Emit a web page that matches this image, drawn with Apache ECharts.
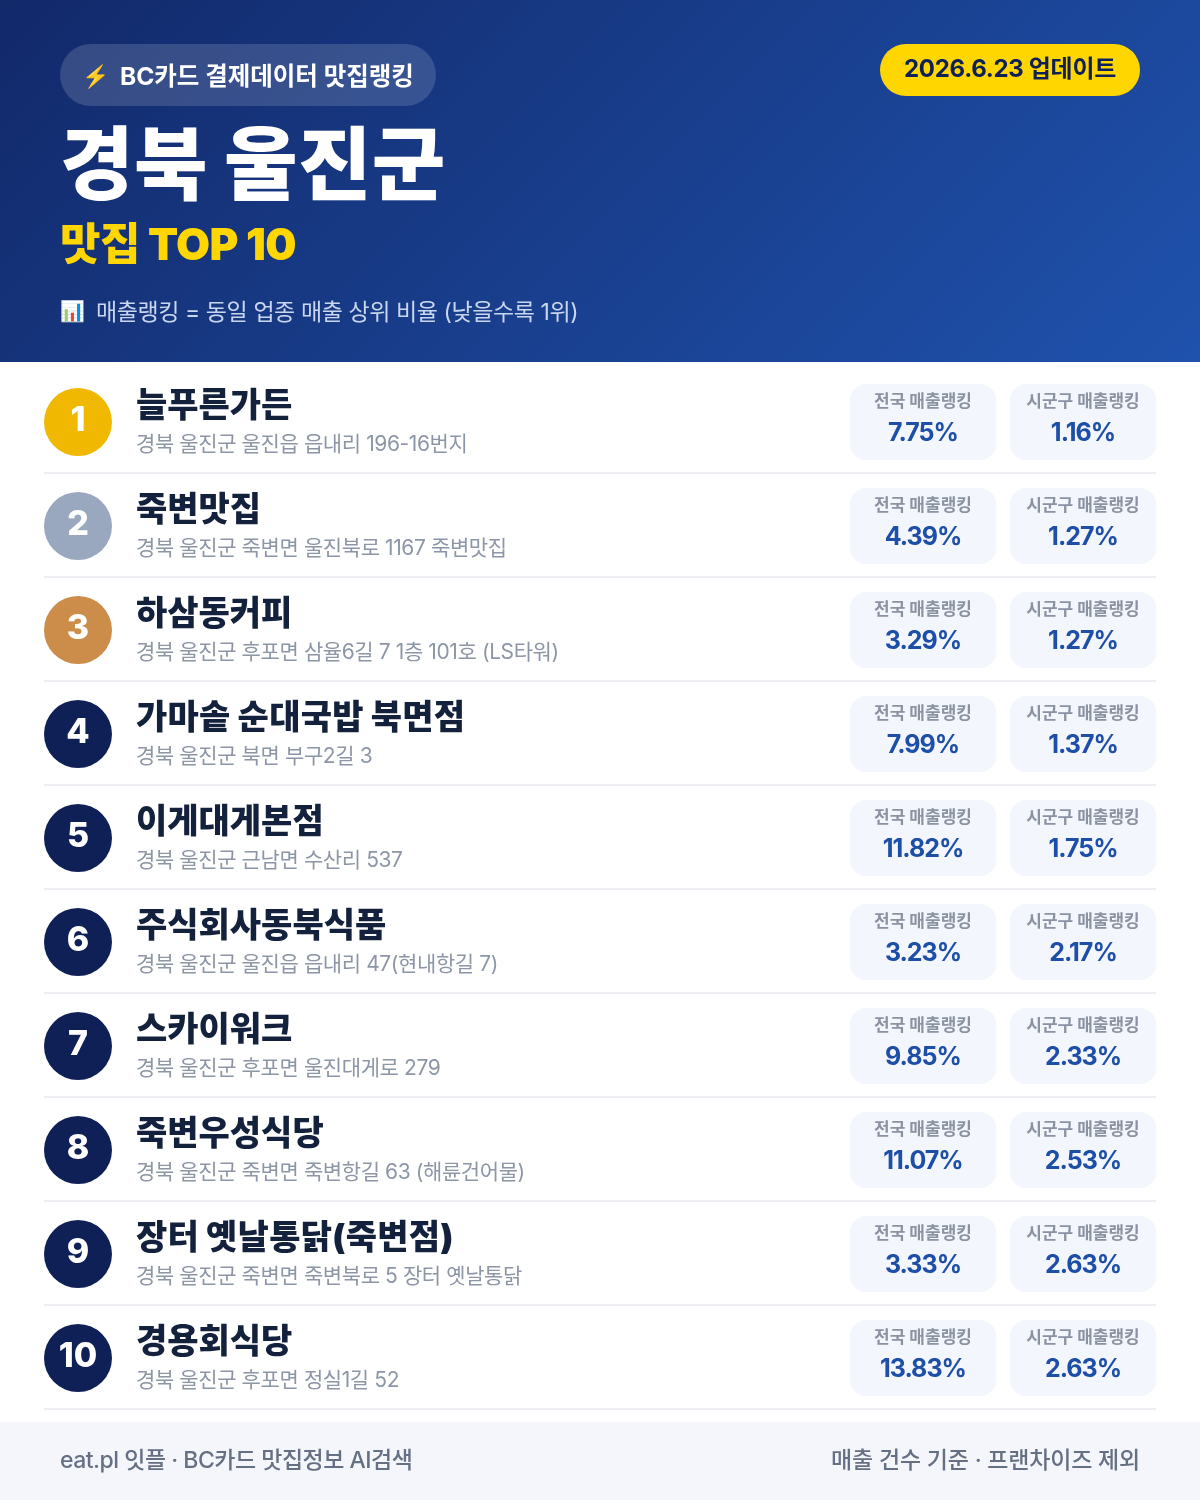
<!DOCTYPE html>
<html lang="ko">
<head>
<meta charset="utf-8">
<style>html,body{margin:0;padding:0;background:#fff}#c{width:1200px;height:1500px}</style>
<script src="https://cdn.jsdelivr.net/npm/echarts@6/dist/echarts.min.js"></script>
</head>
<body>
<div id="c"></div>
<script>
const ranks = ['1','2','3','4','5','6','7','8','9','10'];
const names = ['늘푸른가든','죽변맛집','하삼동커피','가마솥 순대국밥 북면점','이게대게본점','주식회사동북식품','스카이워크','죽변우성식당','장터 옛날통닭(죽변점)','경용회식당'];
const addresses = ['경북 울진군 울진읍 읍내리 196-16번지','경북 울진군 죽변면 울진북로 1167 죽변맛집','경북 울진군 후포면 삼율6길 7 1층 101호 (LS타워)','경북 울진군 북면 부구2길 3','경북 울진군 근남면 수산리 537','경북 울진군 울진읍 읍내리 47(현내항길 7)','경북 울진군 후포면 울진대게로 279','경북 울진군 죽변면 죽변항길 63 (해륜건어물)','경북 울진군 죽변면 죽변북로 5 장터 옛날통닭','경북 울진군 후포면 정실1길 52'];
const nationalRank = [7.75,4.39,3.29,7.99,11.82,3.23,9.85,11.07,3.33,13.83];
const localRank = [1.16,1.27,1.27,1.37,1.75,2.17,2.33,2.53,2.63,2.63];
const FONT = 'Inter,"Noto Sans CJK KR",sans-serif';
const NAVY='#0f2057', BLUE='#1e4fa8';
const badgeColors = ['#f0b800','#9aa8bf','#cc8c4a'];

// tight tracking of the original type, applied at draw time per text string
const tracking = new Map();
const proto = CanvasRenderingContext2D.prototype, rawFill = proto.fillText;
proto.fillText = function(t,x,y){
  this.letterSpacing=(tracking.get(String(t))||0)+'px';
  rawFill.call(this,t,x,y);
};

const chart = echarts.init(document.getElementById('c'),null,{renderer:'canvas',width:1200,height:1500});

function txt(x,y,text,size,weight,fill,align,track){
  if(track) tracking.set(String(text),track);
  return {type:'text',x:x,y:y,silent:true,style:{text:text,font:weight+' '+size+'px '+FONT,fill:fill,align:align||'left',verticalAlign:'middle'}};
}
function card(x,y,label,value){
  return {type:'group',children:[
    {type:'rect',shape:{x:x,y:y-38,width:146,height:76,r:16},style:{fill:'#f3f6fd'}},
    txt(x+73,y-20,label,17,700,'#8b93a3','center'),
    txt(x+73,y+11,value.toFixed(2)+'%',25,700,BLUE,'center',-1)
  ]};
}

chart.setOption({
  animation:false,
  backgroundColor:'#fff',
  grid:{left:44,width:1112,top:369,height:1040},
  xAxis:{type:'value',min:0,max:1112,show:false},
  yAxis:{type:'category',data:ranks,inverse:true,
    axisLine:{show:false},axisTick:{show:false},axisLabel:{show:false},
    splitLine:{show:true,interval:0,showMinLine:false,lineStyle:{color:'#eceef2',width:2}}},
  series:[
    {type:'scatter',symbol:'circle',symbolSize:68,symbolOffset:[34,1],silent:true,
     data:ranks.map((r,i)=>({value:[0,i],itemStyle:{color:badgeColors[i]||NAVY,opacity:1}})),
     label:{show:true,position:'inside',offset:[0,-1],formatter:p=>ranks[p.dataIndex],color:'#fff',fontFamily:FONT,fontWeight:800,fontSize:34}},
    {type:'custom',silent:true,coordinateSystem:'cartesian2d',
     data:names.map((n,i)=>[0,i]),
     renderItem:(params,api)=>{
       const i=params.dataIndex, p=api.coord([0,i]);
       return {type:'group',children:[
         txt(p[0]+92,p[1]-14,names[i],34,900,'#14213d','left',names[i].includes(' ')?0.25:0),
         txt(p[0]+92,p[1]+24,addresses[i],21,400,'#8d96a6','left',-0.4)
       ]};
     }},
    {type:'custom',silent:true,coordinateSystem:'cartesian2d',
     data:nationalRank.map((v,i)=>[0,i,v,localRank[i]]),
     renderItem:(params,api)=>{
       const i=params.dataIndex, p=api.coord([0,i]), y=p[1]+1;
       return {type:'group',children:[
         card(850,y,'전국 매출랭킹',api.value(2)),
         card(1010,y,'시군구 매출랭킹',api.value(3))
       ]};
     }}
  ],
  graphic:{elements:[
    {type:'rect',shape:{x:0,y:0,width:1200,height:362},silent:true,
     style:{fill:new echarts.graphic.LinearGradient(209.5,-209.5,990.5,571.5,[{offset:0,color:'#12296a'},{offset:1,color:'#1f52ad'}],true)}},
    {type:'rect',shape:{x:60,y:44,width:376,height:62,r:31},silent:true,style:{fill:'rgba(255,255,255,0.15)'}},
    txt(82,77,'⚡',22,400,'#ffc83d'),
    txt(120,78,'BC카드 결제데이터 맛집랭킹',24.5,700,'#fff'),
    txt(60,169,'경북 울진군',80,900,'#fff','left',0.3),
    txt(60,247,'맛집 TOP 10',44,900,'#ffd600','left',-0.6),
    txt(60,312,'📊',20,400,'#fff'),
    txt(96,313,'매출랭킹 = 동일 업종 매출 상위 비율 (낮을수록 1위)',23,400,'#c9d6ef','left',-0.42),
    {type:'rect',shape:{x:880,y:44,width:260,height:52,r:26},silent:true,style:{fill:'#ffd600'}},
    txt(1010,70,'2026.6.23 업데이트',24,700,NAVY,'center',-0.3),
    {type:'rect',shape:{x:0,y:1422,width:1200,height:78},silent:true,style:{fill:'#f4f6fb'}},
    txt(60,1461,'eat.pl 잇플 · BC카드 맛집정보 AI검색',23,500,'#667084','left',-0.5),
    txt(1140,1461,'매출 건수 기준 · 프랜차이즈 제외',23,500,'#667084','right',-0.2)
  ]}
});
</script>
</body>
</html>
